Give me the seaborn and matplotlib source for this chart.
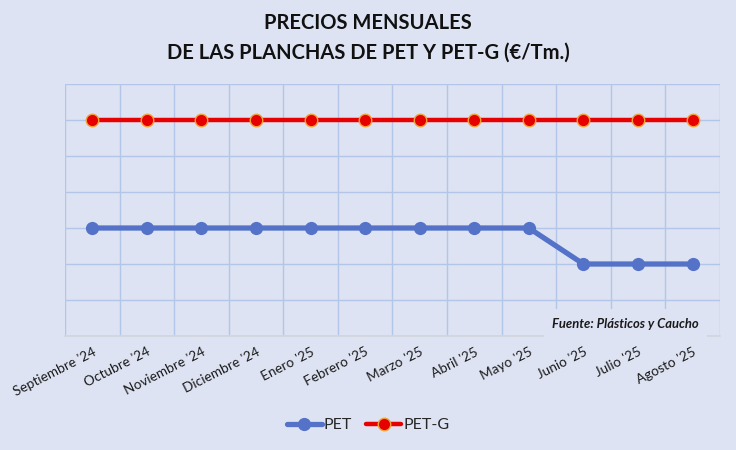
import pandas as pd
import matplotlib.pyplot as plt
import seaborn as sns

# datos (precios relativos; el eje Y no lleva valores)
meses = ["Septiembre '24", "Octubre '24", "Noviembre '24", "Diciembre '24",
         "Enero '25", "Febrero '25", "Marzo '25", "Abril '25", "Mayo '25",
         "Junio '25", "Julio '25", "Agosto '25"]
pet = [3, 3, 3, 3, 3, 3, 3, 3, 3, 2, 2, 2]
pet_g = [6, 6, 6, 6, 6, 6, 6, 6, 6, 6, 6, 6]

bg = '#DDE3F3'
grid = '#B4C6E7'

sns.set_theme(style='white')
plt.rcParams['font.family'] = ['Lato', 'DejaVu Sans']

df = pd.DataFrame({
    'mes': list(range(len(meses))) * 2,
    'precio': pet + pet_g,
    'serie': ['PET'] * len(pet) + ['PET-G'] * len(pet_g),
})

fig = plt.figure(figsize=(7.36, 4.5), dpi=100, facecolor=bg)
ax = fig.add_axes([0.0883, 0.2533, 0.8897, 0.56])
ax.set_facecolor(bg)

sns.lineplot(data=df[df.serie == 'PET'], x='mes', y='precio', ax=ax,
             color='#5472C8', linewidth=3.8, marker='o', markersize=9.5,
             markeredgewidth=0, label='PET')
sns.lineplot(data=df[df.serie == 'PET-G'], x='mes', y='precio', ax=ax,
             color='#E60000', linewidth=3.2, marker='o', markersize=9,
             markeredgecolor='#F2A33A', markeredgewidth=1.0, label='PET-G')

ax.set_xlim(-0.5, len(meses) - 0.5)
ax.set_ylim(0, 7)
ax.set_yticks(range(0, 8))
ax.set_yticklabels([])
ax.set_xticks(range(len(meses)))
ax.set_xticklabels(meses, rotation=27, ha='right', rotation_mode='anchor',
                   fontsize=9.8, color='#1a1a1a')
ax.set_xticks([i - 0.5 for i in range(len(meses) + 1)], minor=True)
ax.tick_params(axis='both', which='both', length=0)
ax.tick_params(axis='x', pad=7)
ax.grid(axis='y', which='major', color=grid, linewidth=1)
ax.grid(axis='x', which='minor', color=grid, linewidth=1)
ax.set_axisbelow(True)
ax.set_xlabel('')
ax.set_ylabel('')
for s in ['top', 'right', 'left']:
    ax.spines[s].set_visible(False)
ax.spines['bottom'].set_color('#D2D6DE')

ax.text(0.968, 0.025, 'Fuente: Plásticos y Caucho', transform=ax.transAxes,
        ha='right', va='bottom', fontsize=9.4, fontweight='bold', style='italic',
        color='#1a1a1a',
        bbox=dict(facecolor=bg, edgecolor='none', pad=6))

fig.text(0.5, 0.948, 'PRECIOS MENSUALES', ha='center', va='center',
         fontsize=14.5, fontweight='bold', color='#111111')
fig.text(0.5, 0.882, 'DE LAS PLANCHAS DE PET Y PET-G (€/Tm.)', ha='center',
         va='center', fontsize=14.5, fontweight='bold', color='#111111')

ax.legend(loc='center', bbox_to_anchor=(0.5, 0.055), bbox_transform=fig.transFigure,
          ncol=2, frameon=False, fontsize=11.5, handlelength=2.2, columnspacing=0.9,
          handletextpad=0.1)

fig.savefig('out.png', dpi=100, facecolor=bg)
